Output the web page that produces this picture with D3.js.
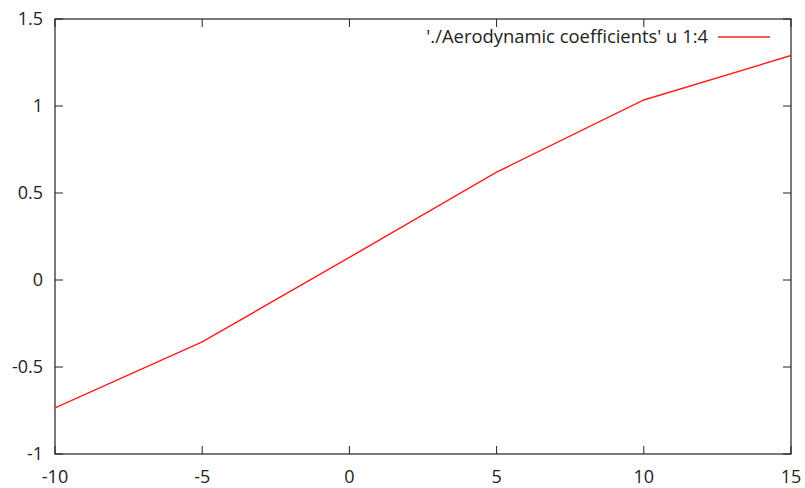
<!DOCTYPE html>
<html><head><meta charset="utf-8">
<script src="https://cdn.jsdelivr.net/npm/d3@7"></script>
<style>body{margin:0;background:#fff}svg{display:block}text{font-family:"Open Sans",sans-serif;font-size:18px;fill:#222}</style>
</head><body><svg id="c" width="805" height="488"></svg>
<script>
const xValues = [-10, -5, 0, 5, 10, 15];
const yValues = [-0.735, -0.356, 0.13, 0.62, 1.035, 1.29];
const xTicks = [-10, -5, 0, 5, 10, 15];
const yTicks = [-1, -0.5, 0, 0.5, 1, 1.5];
const legendLabel = "'./Aerodynamic coefficients' u 1:4";

const svg = d3.select("#c");
const L = 55, R = 791, T = 19, B = 454;
const x = d3.scaleLinear().domain([-10, 15]).range([L, R]);
const y = d3.scaleLinear().domain([-1, 1.5]).range([B, T]);
const tl = 8;
const fmt = v => String(v);

const g = svg.append("g");
xTicks.forEach(v => {
  g.append("line").attr("x1", x(v)).attr("x2", x(v)).attr("y1", B).attr("y2", B - tl).attr("stroke", "#222");
  g.append("line").attr("x1", x(v)).attr("x2", x(v)).attr("y1", T).attr("y2", T + tl).attr("stroke", "#222");
  g.append("text").attr("x", x(v)).attr("y", B + 29).attr("text-anchor", "middle").text(fmt(v));
});
yTicks.forEach(v => {
  g.append("line").attr("x1", L).attr("x2", L + tl).attr("y1", y(v)).attr("y2", y(v)).attr("stroke", "#222");
  g.append("line").attr("x1", R).attr("x2", R - tl).attr("y1", y(v)).attr("y2", y(v)).attr("stroke", "#222");
  g.append("text").attr("x", L - 12).attr("y", y(v)).attr("dy", "0.35em").attr("text-anchor", "end").text(fmt(v));
});
g.append("rect").attr("x", L).attr("y", T).attr("width", R - L).attr("height", B - T)
  .attr("fill", "none").attr("stroke", "#222").attr("stroke-width", 1.2);

const line = d3.line().x((d, i) => x(xValues[i])).y(d => y(d));
svg.append("path").datum(yValues).attr("d", line).attr("fill", "none")
  .attr("stroke", "#ff2020").attr("stroke-width", 1.5);

svg.append("text").attr("x", 708).attr("y", 37).attr("dy", "0.35em").attr("text-anchor", "end")
  .style("font-size", "18.4px").text(legendLabel);
svg.append("line").attr("x1", 718).attr("x2", 770).attr("y1", 37).attr("y2", 37).attr("stroke", "#ff2020").attr("stroke-width", 1.5);
</script></body></html>
